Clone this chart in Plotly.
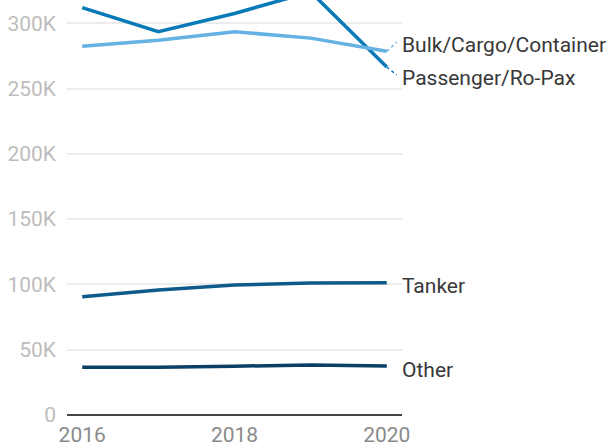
import plotly.graph_objects as go

years = [2016, 2017, 2018, 2019, 2020]
series_names = ["Passenger/Ro-Pax", "Bulk/Cargo/Container", "Tanker", "Other"]
passenger = [312000, 293500, 307500, 324000, 266500]
bulk = [282300, 287000, 293500, 288600, 278500]
tanker = [90600, 95700, 99500, 101000, 101300]
other = [36500, 36500, 37400, 38200, 37500]
y_ticks = [0, 50000, 100000, 150000, 200000, 250000, 300000]
x_ticks = [2016, 2018, 2020]

colors = ["#087ab8", "#64b1e3", "#0d5a8b", "#0c3f66"]
values = [passenger, bulk, tanker, other]
# label offsets (in data units) from the last value, to avoid overlaps
label_shift = [-8500, 4500, -2500, -2800]

fig = go.Figure()
for name, vals, col in zip(series_names, values, colors):
    fig.add_trace(go.Scatter(x=years, y=vals, mode="lines", name=name,
                             line=dict(color=col, width=3.5), hoverinfo="skip"))

for name, vals, col, sh in zip(series_names, values, colors, label_shift):
    ylab = vals[-1] + sh
    fig.add_annotation(x=1, xref="paper", y=ylab, yref="y", text=name,
                       showarrow=False, xanchor="left", yanchor="middle", xshift=-2,
                       font=dict(family="Roboto", size=21, color="#383838"))
    if abs(sh) > 4000:
        # dotted leader from the line end to its moved label
        fig.add_shape(type="line", x0=years[-1], y0=vals[-1], x1=years[-1] + 0.13,
                      y1=ylab + 2500, xref="x", yref="y",
                      line=dict(color=col, width=1.5, dash="dot"))

fig.update_layout(
    width=608, height=448,
    margin=dict(l=67, r=206, t=0, b=33),
    paper_bgcolor="white", plot_bgcolor="white",
    showlegend=False,
    font=dict(family="Roboto", size=21),
    xaxis=dict(range=[2015.8, 2020.2], tickvals=x_ticks, showgrid=False,
               zeroline=False, showline=False, ticks="", ticklabelstandoff=5,
               tickfont=dict(color="#8a8a8a", size=21)),
    yaxis=dict(range=[0, 317800], tickvals=y_ticks,
               ticktext=["0" if v == 0 else f"{v // 1000}K" for v in y_ticks],
               showgrid=True, gridcolor="#ececec", gridwidth=2,
               zeroline=True, zerolinecolor="#444444", zerolinewidth=2,
               showline=False, ticks="", ticklabelstandoff=10,
               tickfont=dict(color="#bdbdbd", size=21)),
)

# drop the default page margin so the chart sits at the window corner
fig.write_html("out.html", config={"displayModeBar": False},
               post_script="document.body.style.margin='0';")
